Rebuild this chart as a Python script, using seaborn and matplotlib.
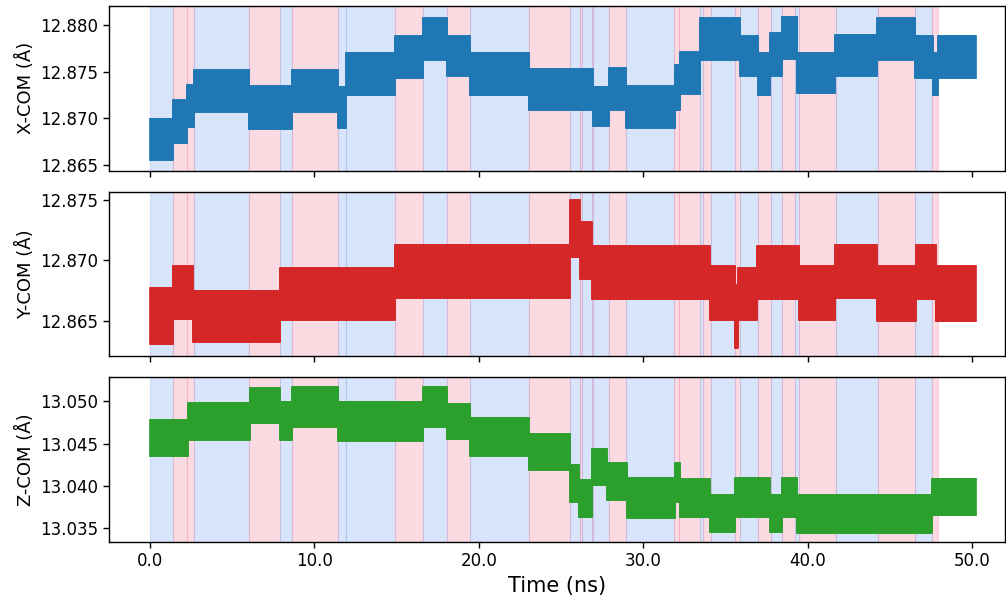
import numpy as np
import pandas as pd
import matplotlib
matplotlib.use("Agg")
import matplotlib.pyplot as plt
import seaborn as sns

# ---------------- data ----------------
t_end = 50.25

# background state spans (ns)
span_start = [0.00, 1.38, 2.27, 2.69, 6.04, 7.91, 8.62, 11.45, 11.94, 14.90,
              16.63, 18.09, 19.49, 23.02, 25.57, 26.16, 26.26, 26.86, 26.96, 27.89,
              28.96, 31.89, 32.19, 33.45, 33.65, 34.10, 35.60, 35.90, 36.98, 37.75,
              38.44, 39.25, 39.49, 41.72, 44.26, 46.54, 47.56]
span_end = [1.38, 2.27, 2.69, 6.04, 7.91, 8.62, 11.45, 11.94, 14.90, 16.63,
            18.09, 19.49, 23.02, 25.57, 26.16, 26.26, 26.86, 26.96, 27.89, 28.96,
            31.89, 32.19, 33.45, 33.65, 34.10, 35.60, 35.90, 36.98, 37.75, 38.44,
            39.25, 39.49, 41.72, 44.26, 46.54, 47.56, 47.90]
span_kind = ["b", "p", "p", "b", "p", "b", "p", "b", "b", "p",
             "b", "p", "b", "p", "b", "p", "b", "p", "b", "p",
             "b", "p", "p", "b", "p", "b", "p", "b", "p", "b",
             "p", "b", "p", "b", "p", "b", "p"]

# X-COM envelope: segment start times, lower and upper values
x_t = [0.00, 1.38, 2.27, 2.69, 6.04, 8.62, 11.45, 11.94, 14.90, 16.63,
       18.09, 19.49, 23.02, 26.96, 27.89, 28.96, 31.93, 32.24, 33.45, 35.89,
       37.00, 37.71, 38.42, 39.33, 41.66, 44.20, 46.53, 47.65, 47.90]
x_lo = [12.8655, 12.8673, 12.8691, 12.8707, 12.8689, 12.8707, 12.8690, 12.8725, 12.8743, 12.8763,
        12.8745, 12.8725, 12.8709, 12.8692, 12.8709, 12.8690, 12.8709, 12.8726, 12.8763, 12.8745,
        12.8725, 12.8745, 12.8764, 12.8727, 12.8745, 12.8763, 12.8743, 12.8725, 12.8743]
x_hi = [12.8699, 12.8720, 12.8736, 12.8752, 12.8735, 12.8752, 12.8734, 12.8770, 12.8788, 12.8807,
        12.8788, 12.8770, 12.8753, 12.8734, 12.8754, 12.8735, 12.8757, 12.8771, 12.8807, 12.8788,
        12.8770, 12.8791, 12.8809, 12.8770, 12.8789, 12.8807, 12.8788, 12.8770, 12.8788]

# Y-COM envelope
y_t = [0.00, 1.38, 2.63, 7.91, 14.90, 25.55, 26.16, 26.86, 34.06, 35.55,
       35.75, 36.90, 39.50, 41.66, 44.20, 46.60, 47.80]
y_lo = [12.8631, 12.8652, 12.8633, 12.8651, 12.8669, 12.8703, 12.8685, 12.8668, 12.8651, 12.8628,
        12.8651, 12.8668, 12.8651, 12.8669, 12.8650, 12.8668, 12.8650]
y_hi = [12.8677, 12.8695, 12.8675, 12.8694, 12.8713, 12.8750, 12.8732, 12.8712, 12.8695, 12.8680,
        12.8694, 12.8712, 12.8695, 12.8713, 12.8695, 12.8713, 12.8695]

# Z-COM envelope
z_t = [0.00, 2.33, 6.08, 7.91, 8.62, 11.45, 16.63, 18.05, 19.47, 23.02,
       25.55, 26.06, 26.86, 27.79, 28.99, 31.93, 32.24, 34.06, 35.58, 37.71,
       38.42, 39.33, 47.54]
z_lo = [13.0435, 13.0454, 13.0474, 13.0454, 13.0470, 13.0453, 13.0470, 13.0456, 13.0435, 13.0419,
        13.0381, 13.0364, 13.0401, 13.0383, 13.0362, 13.0381, 13.0364, 13.0346, 13.0364, 13.0346,
        13.0364, 13.0345, 13.0366]
z_hi = [13.0478, 13.0498, 13.0516, 13.0499, 13.0517, 13.0499, 13.0517, 13.0497, 13.0480, 13.0462,
        13.0425, 13.0407, 13.0444, 13.0427, 13.0409, 13.0427, 13.0408, 13.0390, 13.0410, 13.0389,
        13.0409, 13.0390, 13.0408]

labels = ["X-COM (Å)", "Y-COM (Å)", "Z-COM (Å)"]
x_ticks = [0, 10, 20, 30, 40, 50]
y_ticks = [[12.865, 12.870, 12.875, 12.880],
           [12.865, 12.870, 12.875],
           [13.035, 13.040, 13.045, 13.050]]
y_lims = [(12.86439, 12.88204), (12.86209, 12.87569), (13.03343, 13.05287)]

# ---------------- style ----------------
sns.set_style("ticks", {"axes.edgecolor": "black", "xtick.color": "black",
                        "ytick.color": "black", "text.color": "black",
                        "axes.labelcolor": "black"})
plt.rcParams["font.family"] = ["DejaVu Sans"]

line_colors = ["#1f77b4", "#d62728", "#2ca02c"]
span_colors = {"b": "#80a8ee", "p": "#f587a2"}

fig, axes = plt.subplots(3, 1, sharex=True, figsize=(10.06, 5.97), dpi=100)
fig.subplots_adjust(left=0.1083, right=0.999, top=0.990, bottom=0.0926, hspace=0.127)

series = [(x_t, x_lo, x_hi), (y_t, y_lo, y_hi), (z_t, z_lo, z_hi)]

for i, ax in enumerate(axes):
    for s, e, k in zip(span_start, span_end, span_kind):
        ax.axvspan(s, e, color=span_colors[k], alpha=0.3, lw=0.8, zorder=0)
    tt, lo, hi = series[i]
    t = np.append(tt, t_end)
    lo_a = np.append(lo, lo[-1])
    hi_a = np.append(hi, hi[-1])
    ax.fill_between(t, lo_a, hi_a, step="post", color=line_colors[i],
                    lw=1.2, edgecolor=line_colors[i], zorder=2)
    df = pd.DataFrame({"t": np.concatenate([t, t]),
                       "v": np.concatenate([lo_a, hi_a]),
                       "edge": ["lo"] * len(t) + ["hi"] * len(t)})
    sns.lineplot(data=df, x="t", y="v", units="edge", estimator=None,
                 color=line_colors[i], lw=1.2, drawstyle="steps-post",
                 ax=ax, zorder=3, legend=False)
    ax.set_ylim(*y_lims[i])
    ax.set_yticks(y_ticks[i])
    ax.set_yticklabels([f"{v:.3f}" for v in y_ticks[i]])
    ax.set_ylabel(labels[i], fontsize=13)
    ax.set_xlabel("")
    ax.tick_params(axis="both", labelsize=12, direction="out", length=4, width=1)
    for sp in ax.spines.values():
        sp.set_visible(True)
        sp.set_linewidth(1.0)

axes[-1].set_xlim(-2.5, 52.0)
axes[-1].set_xticks(x_ticks)
axes[-1].set_xticklabels([f"{v:.1f}" for v in x_ticks])
axes[-1].set_xlabel("Time (ns)", fontsize=15)

fig.savefig("out.png", dpi=100)
